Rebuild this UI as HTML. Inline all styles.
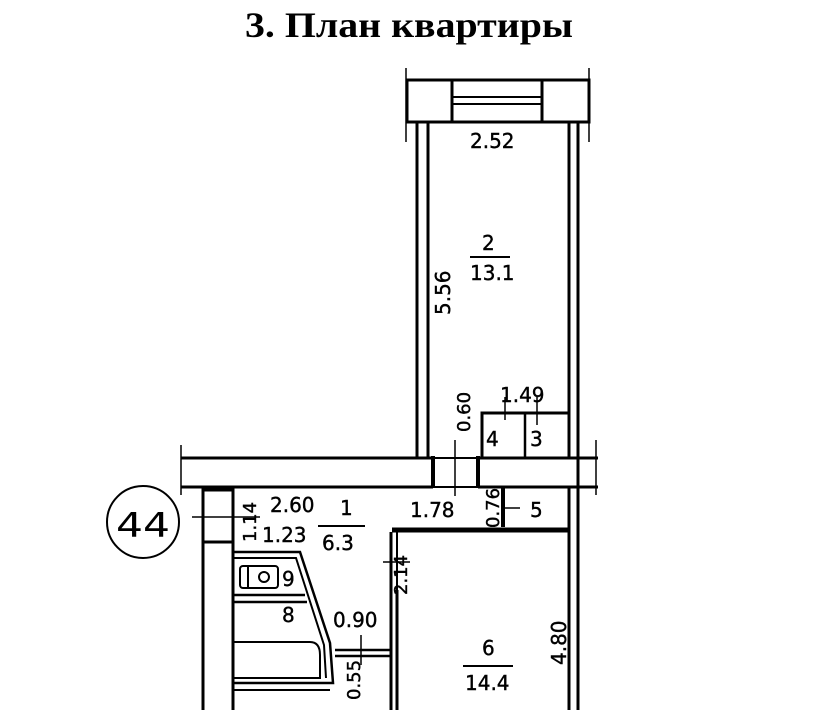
<!DOCTYPE html>
<html><head><meta charset="utf-8"><style>
html,body{margin:0;padding:0;background:#fff;}
svg{display:block;}
text{font-family:"DejaVu Sans","Liberation Sans",sans-serif;fill:#000;}
</style></head><body>
<svg width="820" height="710" viewBox="0 0 820 710" xmlns="http://www.w3.org/2000/svg">
<text x="409" y="37" text-anchor="middle" font-weight="bold" font-size="36" textLength="328" lengthAdjust="spacingAndGlyphs" style="font-family:'Liberation Serif',serif">3. План квартиры</text>
<g stroke="#000" fill="none" stroke-width="3">
<line x1="406" y1="68" x2="406" y2="142" stroke-width="1.5"/>
<line x1="589" y1="68" x2="589" y2="142" stroke-width="1.5"/>
<line x1="407" y1="80" x2="590" y2="80"/>
<line x1="407" y1="122" x2="590" y2="122"/>
<rect x="407" y="80" width="45" height="42"/>
<rect x="542" y="80" width="47" height="42"/>
<line x1="452" y1="97" x2="542" y2="97" stroke-width="2"/>
<line x1="452" y1="104" x2="542" y2="104" stroke-width="2"/>
<line x1="417" y1="122" x2="417" y2="458"/>
<line x1="428" y1="122" x2="428" y2="458"/>
<line x1="569" y1="122" x2="569" y2="458"/>
<line x1="569" y1="487" x2="569" y2="710"/>
<line x1="578" y1="122" x2="578" y2="710"/>
<polyline points="482,458 482,413 568,413"/>
<line x1="525" y1="413" x2="525" y2="458" stroke-width="2.5"/>
<line x1="181" y1="458" x2="433" y2="458"/>
<line x1="181" y1="487" x2="433" y2="487"/>
<line x1="478" y1="458" x2="598" y2="458"/>
<line x1="478" y1="487" x2="598" y2="487"/>
<line x1="433" y1="456" x2="433" y2="488" stroke-width="4"/>
<line x1="478" y1="456" x2="478" y2="488" stroke-width="4"/>
<line x1="432" y1="458" x2="480" y2="458" stroke-width="2"/>
<line x1="432" y1="487" x2="480" y2="487" stroke-width="2"/>
<line x1="181" y1="445" x2="181" y2="495" stroke-width="1.5"/>
<line x1="596" y1="440" x2="596" y2="495" stroke-width="1.5"/>
<line x1="503" y1="487" x2="503" y2="527" stroke-width="4"/>
<line x1="392" y1="530" x2="569" y2="530" stroke-width="5"/>
<line x1="391" y1="532" x2="391" y2="710"/>
<line x1="397" y1="532" x2="397" y2="590" stroke-width="2"/>
<line x1="397" y1="590" x2="397" y2="710"/>
<line x1="203" y1="487" x2="203" y2="710"/>
<line x1="233" y1="487" x2="233" y2="710"/>
<line x1="203" y1="490" x2="233" y2="490"/>
<line x1="203" y1="542" x2="233" y2="542"/>
<polyline points="233,552 300,552 330,643 333,683 233,683" stroke-width="2.5"/>
<polyline points="233,558 296,558 324,645 326,678" stroke-width="2"/>
<line x1="233" y1="595" x2="305" y2="595" stroke-width="2.5"/>
<line x1="233" y1="602" x2="307" y2="602" stroke-width="2.5"/>
<rect x="240" y="566" width="38" height="22" rx="3" stroke-width="2"/>
<circle cx="264" cy="577" r="5" stroke-width="2"/>
<line x1="248" y1="566" x2="248" y2="588" stroke-width="2"/>
<path d="M233 642 H310 Q320 642 320 655 V678 H233" stroke-width="2"/>
<line x1="233" y1="690" x2="330" y2="690" stroke-width="2"/>
<line x1="335" y1="650" x2="390" y2="650" stroke-width="2.5"/>
<line x1="335" y1="656" x2="390" y2="656" stroke-width="2.5"/>
<g stroke-width="1.5">
<line x1="455" y1="440" x2="455" y2="496"/>
<line x1="503" y1="508" x2="520" y2="508"/>
<line x1="537" y1="397" x2="537" y2="425"/>
<line x1="505" y1="397" x2="505" y2="420"/>
<line x1="192" y1="517" x2="260" y2="517"/>
<line x1="383" y1="562" x2="410" y2="562"/>
<line x1="361" y1="635" x2="361" y2="665"/>
</g>
<circle cx="143" cy="522" r="36" stroke-width="2"/>
</g>
<g font-size="20" stroke="#000" stroke-width="0.4">
<text x="470" y="148">2.52</text>
<text x="482" y="250">2</text>
<text x="470" y="280">13.1</text>
<text transform="translate(450,315) rotate(-90)">5.56</text>
<text x="500" y="402">1.49</text>
<text transform="translate(470,432) rotate(-90)" font-size="18">0.60</text>
<text x="486" y="446">4</text>
<text x="530" y="446">3</text>
<text x="270" y="512">2.60</text>
<text x="340" y="515">1</text>
<text x="322" y="550">6.3</text>
<text x="410" y="517">1.78</text>
<text transform="translate(499,528) rotate(-90)" font-size="18">0.76</text>
<text x="530" y="517">5</text>
<text transform="translate(256,542) rotate(-90)" font-size="18">1.14</text>
<text x="262" y="542">1.23</text>
<text x="282" y="586">9</text>
<text x="282" y="622">8</text>
<text x="333" y="627">0.90</text>
<text transform="translate(360,700) rotate(-90)" font-size="18">0.55</text>
<text transform="translate(407,595) rotate(-90)" font-size="18">2.14</text>
<text x="482" y="655">6</text>
<text x="465" y="690">14.4</text>
<text transform="translate(566,665) rotate(-90)">4.80</text>
<text x="116" y="537" font-size="34" stroke-width="0" textLength="54" lengthAdjust="spacingAndGlyphs">44</text>
</g>
<line x1="470" y1="257" x2="510" y2="257" stroke="#000" stroke-width="2"/>
<line x1="318" y1="526" x2="365" y2="526" stroke="#000" stroke-width="2"/>
<line x1="463" y1="666" x2="513" y2="666" stroke="#000" stroke-width="2"/>
</svg>
</body></html>
